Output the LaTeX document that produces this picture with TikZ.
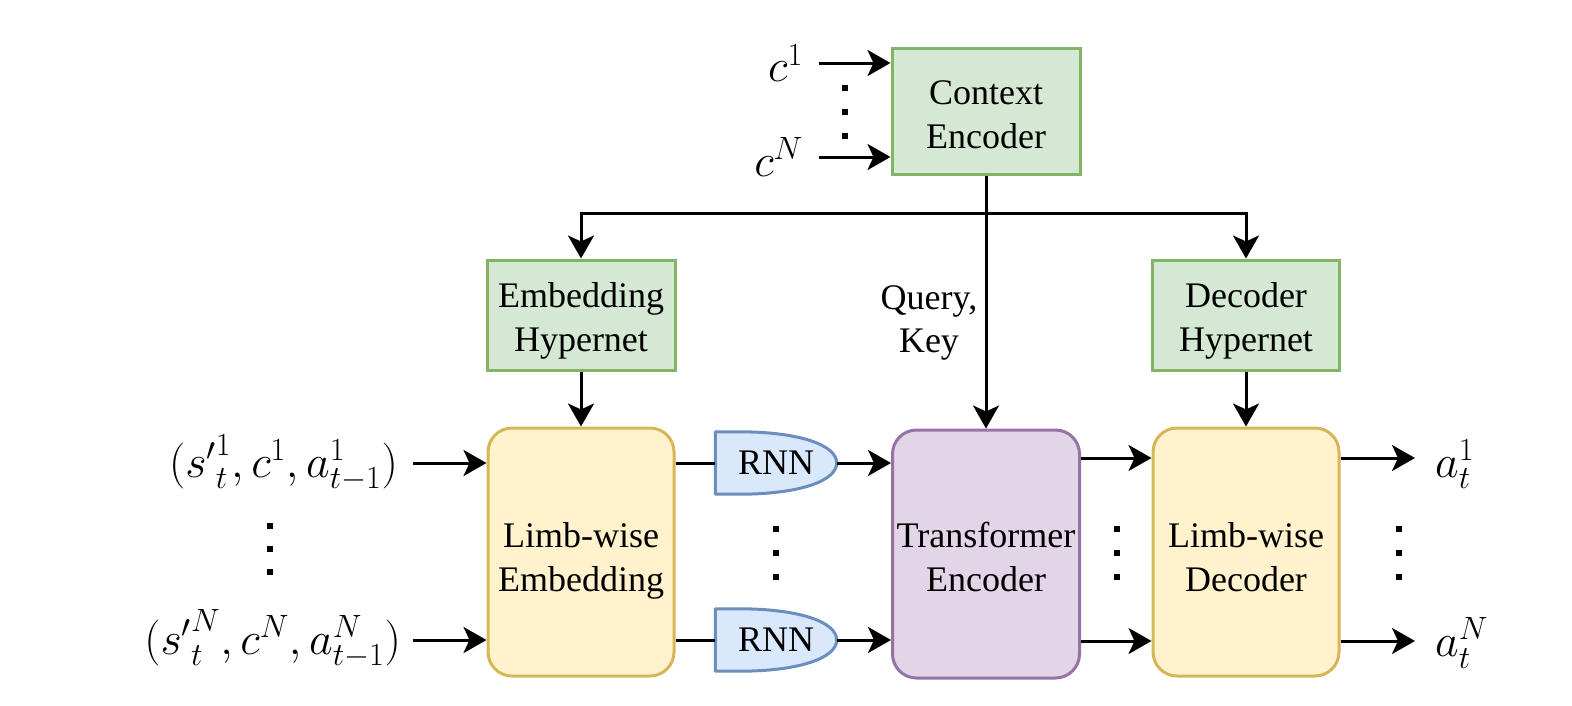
\RequirePackage{fix-cm}
\documentclass[tikz,border=0pt]{standalone}
\usepackage[no-math]{fontspec}
\setmainfont{Liberation Serif}
\usetikzlibrary{arrows.meta,backgrounds}
\definecolor{gfill}{HTML}{D5E8D4}\definecolor{gline}{HTML}{82B366}
\definecolor{yfill}{HTML}{FFF2CC}\definecolor{yline}{HTML}{D6B656}
\definecolor{pfill}{HTML}{E1D5E7}\definecolor{pline}{HTML}{9673A6}
\definecolor{bfill}{HTML}{DAE8FC}\definecolor{bline}{HTML}{6C8EBF}
\newcommand\txtfont{\fontsize{36}{43}\selectfont}
\newcommand\boxfont{\fontsize{36}{44}\selectfont\lineskiplimit=-100pt\relax}
\newcommand\mfont{\fontsize{46}{55}\selectfont}
% struts: depth 8pt, height 42 / 38 / 36
\newcommand\sA{\rule[-8pt]{0pt}{50pt}}
\newcommand\sB{\rule[-8pt]{0pt}{46pt}}
\newcommand\sC{\rule[-8pt]{0pt}{44pt}}
\tikzset{
  box/.style={draw, line width=3pt, inner sep=0pt, align=center, font=\boxfont},
  gbox/.style={box, fill=gfill, draw=gline},
  ybox/.style={box, fill=yfill, draw=yline, rounded corners=24pt, minimum width=186pt, minimum height=248pt},
  pbox/.style={box, fill=pfill, draw=pline, rounded corners=24pt, minimum width=187pt, minimum height=248pt},
  rnnnode/.style={inner sep=0pt, minimum width=121pt, minimum height=62pt, font=\txtfont},
  rnnshape/.style={fill=bfill, draw=bline, line width=3pt, line join=round},
  lab/.style={inner sep=0pt, font=\mfont},
  arr/.style={-{Stealth[length=23pt,width=26pt,inset=6pt]}, line width=3pt},
  ln/.style={line width=3pt},
  dotsq/.style={rectangle, fill=black, minimum size=6pt, inner sep=0pt}
}
\begin{document}
\begin{tikzpicture}[x=1pt,y=-1pt]
\useasboundingbox (0,0) rectangle (1572,705);
% boxes
\node[gbox, minimum width=188pt, minimum height=126pt] (ctx) at (986,111) {\sB Context\\\sB Encoder};
\node[gbox, minimum width=188pt, minimum height=110pt] (eh) at (581,315) {\sC Embedding\\\sC Hypernet};
\node[gbox, minimum width=187pt, minimum height=110pt] (dh) at (1246,315) {\sC Decoder\\\sC Hypernet};
\node[ybox] (emb) at (581,552) {\sA Limb-wise\\\sA Embedding};
\node[pbox] (tr) at (986,554) {\sB Transformer\\\sB Encoder};
\node[ybox] (dec) at (1246,552) {\sA Limb-wise\\\sA Decoder};
% RNNs
\node[rnnnode] (r1) at (776,463) {RNN};
\node[rnnnode] (r2) at (776,640) {RNN};
\begin{scope}[on background layer]
\foreach \r in {r1,r2}{
  \draw[rnnshape] (\r.north west) -- ++(24,0) .. controls +(60,0) and +(0,-18) .. (\r.east)
     .. controls +(0,18) and +(60,0) .. ([xshift=24pt]\r.south west) -- (\r.south west) -- cycle;
}
\end{scope}
% labels
\node[lab, anchor=east] (c1) at (803,63) {$c^1$};
\node[lab, anchor=east] (cN) at (803,157) {$c^N$};
\node[lab, anchor=east] (in1) at (398,463) {$({s'}^{1}_{t},c^{1},a^{1}_{t-1})$};
\node[lab, anchor=east] (in2) at (401,639) {$({s'}^{N}_{t},c^{N},a^{N}_{t-1})$};
\node[lab, anchor=west] (o1) at (1435,464) {$a_t^1$};
\node[lab, anchor=west] (o2) at (1435,643) {$a_t^N$};
\node[font=\txtfont, align=center, inner sep=0pt] (qk) at (929,323) {Query,\\Key};
% rows
\coordinate (rowA) at (0,458);
\coordinate (rowB) at (0,641);
\coordinate (inA) at (0,463);
\coordinate (inB) at (0,640);
\coordinate (brY) at (0,213);
% connectors
\draw[arr] ([xshift=16pt]c1.east) -- (c1.east -| ctx.west);
\draw[arr] ([xshift=16pt]cN.east) -- (cN.east -| ctx.west);
\draw[arr] (ctx.south) -- (tr.north);
\draw[arr] (ctx.south |- brY) -| (eh.north);
\draw[arr] (ctx.south |- brY) -| (dh.north);
\draw[arr] (eh.south) -- (emb.north);
\draw[arr] (dh.south) -- (dec.north);
\draw[arr] ([xshift=15pt]in1.east |- inA) -- (emb.west |- inA);
\draw[arr] ([xshift=12pt]in2.east |- inB) -- (emb.west |- inB);
\draw[ln] (emb.east |- r1.west) -- (r1.west);
\draw[ln] (emb.east |- r2.west) -- (r2.west);
\draw[arr] (r1.east) -- (r1.east -| tr.west);
\draw[arr] (r2.east) -- (r2.east -| tr.west);
\draw[arr] (tr.east |- rowA) -- (dec.west |- rowA);
\draw[arr] (tr.east |- rowB) -- (dec.west |- rowB);
\draw[arr, shorten >=20pt] (dec.east |- rowA) -- (o1.west |- rowA);
\draw[arr, shorten >=20pt] (dec.east |- rowB) -- (o2.west |- rowB);
% dots
\foreach \n/\x/\y/\d in {l/270/526/23, m/776/529/24, r/1117/529/24, o/1399/529/24, t/845/88/24}{
  \foreach \i in {0,1,2}{
    \node[dotsq] (dot\n\i) at (\x,\y+\i*\d) {};
  }
}
\end{tikzpicture}
\end{document}
